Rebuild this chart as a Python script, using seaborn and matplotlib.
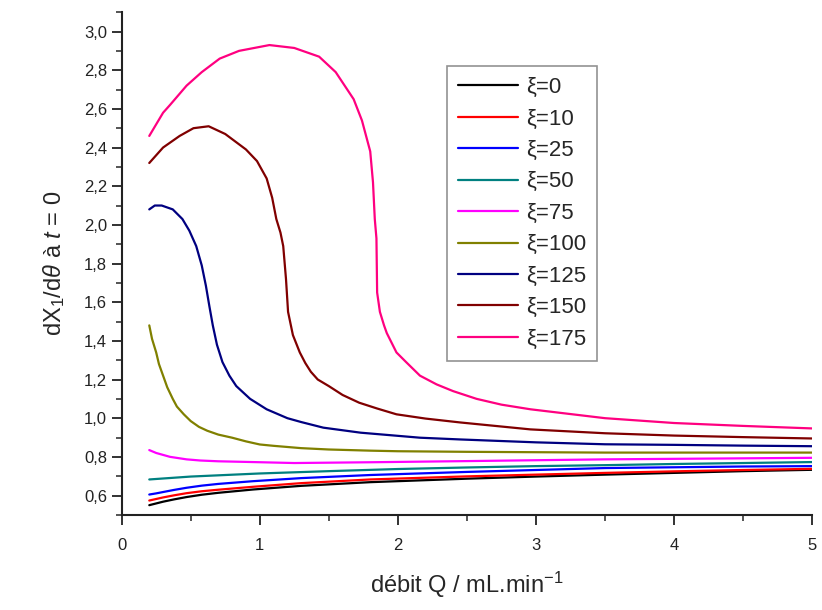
import numpy as np
import pandas as pd
import matplotlib
matplotlib.use("Agg")
import matplotlib.pyplot as plt
from matplotlib.ticker import MultipleLocator, FuncFormatter
import seaborn as sns

# values
labels = ["ξ=0", "ξ=10", "ξ=25", "ξ=50", "ξ=75", "ξ=100", "ξ=125", "ξ=150", "ξ=175"]
colors = ["#000000", "#ff0000", "#0000ff", "#008080", "#ff00ff",
          "#808000", "#000080", "#800000", "#ff0080"]

q_low = [0.2, 0.25, 0.3, 0.38, 0.47, 0.58, 0.7, 0.95, 1.3, 1.8, 2.5, 3.0, 3.5, 4.0, 4.5, 5.0]
y_xi0 = [0.55, 0.559, 0.568, 0.58, 0.592, 0.604, 0.614, 0.631, 0.65, 0.669, 0.687, 0.698, 0.708, 0.717, 0.726, 0.733]
y_xi10 = [0.574, 0.582, 0.59, 0.601, 0.612, 0.622, 0.63, 0.645, 0.664, 0.683, 0.699, 0.708, 0.717, 0.725, 0.732, 0.738]
y_xi25 = [0.605, 0.611, 0.618, 0.629, 0.64, 0.651, 0.66, 0.674, 0.69, 0.706, 0.722, 0.732, 0.742, 0.746, 0.75, 0.752]

q_xi50 = [0.2, 0.5, 1.0, 1.5, 2.0, 2.5, 3.0, 3.5, 4.0, 4.5, 5.0]
y_xi50 = [0.683, 0.698, 0.714, 0.726, 0.737, 0.745, 0.752, 0.757, 0.763, 0.768, 0.773]

q_xi75 = [0.2, 0.25, 0.3, 0.35, 0.47, 0.57, 0.7, 0.95, 1.25, 1.8, 2.5, 3.5, 5.0]
y_xi75 = [0.835, 0.82, 0.81, 0.8, 0.787, 0.781, 0.777, 0.773, 0.768, 0.772, 0.778, 0.787, 0.795]

q_xi100 = [0.2, 0.22, 0.25, 0.27, 0.3, 0.33, 0.37, 0.4, 0.45, 0.5, 0.56, 0.62, 0.7, 0.8, 0.9,
           1.0, 1.1, 1.3, 1.5, 1.8, 2.0, 2.5, 3.5, 5.0]
y_xi100 = [1.48, 1.41, 1.34, 1.28, 1.22, 1.16, 1.10, 1.06, 1.02, 0.985, 0.955, 0.935, 0.915, 0.899, 0.88,
           0.864, 0.857, 0.845, 0.838, 0.832, 0.829, 0.826, 0.822, 0.822]

q_xi125 = [0.2, 0.24, 0.29, 0.37, 0.44, 0.49, 0.54, 0.58, 0.61, 0.635, 0.66, 0.69, 0.73, 0.78,
           0.83, 0.93, 1.05, 1.2, 1.3, 1.46, 1.73, 2.16, 2.45, 3.0, 3.5, 4.0, 4.5, 5.0]
y_xi125 = [2.08, 2.10, 2.10, 2.08, 2.03, 1.97, 1.89, 1.79, 1.685, 1.58, 1.48, 1.38, 1.29, 1.22,
           1.166, 1.10, 1.046, 1.0, 0.98, 0.951, 0.925, 0.899, 0.89, 0.875, 0.865, 0.862, 0.858, 0.855]

q_xi150 = [0.2, 0.3, 0.42, 0.52, 0.63, 0.75, 0.9, 0.98, 1.05, 1.09, 1.12, 1.15, 1.17, 1.19, 1.205,
           1.24, 1.29, 1.33, 1.37, 1.42, 1.5, 1.6, 1.72, 1.85, 1.99, 2.2, 2.45, 2.96, 3.5, 4.0, 4.5, 5.0]
y_xi150 = [2.32, 2.40, 2.46, 2.50, 2.51, 2.47, 2.39, 2.33, 2.24, 2.14, 2.03, 1.96, 1.89, 1.72, 1.55,
           1.43, 1.34, 1.285, 1.24, 1.20, 1.166, 1.12, 1.08, 1.05, 1.02, 0.998, 0.978, 0.942, 0.922, 0.91, 0.902, 0.895]

q_xi175 = [0.2, 0.25, 0.3, 0.35, 0.47, 0.58, 0.71, 0.85, 1.07, 1.25, 1.43, 1.55, 1.68, 1.74, 1.8,
           1.82, 1.833, 1.845, 1.85, 1.87, 1.9, 1.92, 1.99, 2.06, 2.16, 2.28, 2.4, 2.57, 2.75, 2.96,
           3.5, 4.0, 4.5, 5.0]
y_xi175 = [2.46, 2.52, 2.58, 2.62, 2.72, 2.79, 2.86, 2.90, 2.93, 2.915, 2.87, 2.79, 2.65, 2.54, 2.38,
           2.22, 2.03, 1.93, 1.65, 1.55, 1.48, 1.44, 1.34, 1.29, 1.22, 1.175, 1.14, 1.10, 1.07, 1.046,
           1.0, 0.975, 0.96, 0.947]

series = [(q_low, y_xi0), (q_low, y_xi10), (q_low, y_xi25), (q_xi50, y_xi50),
          (q_xi75, y_xi75), (q_xi100, y_xi100), (q_xi125, y_xi125),
          (q_xi150, y_xi150), (q_xi175, y_xi175)]

frames = []
for lab, (q, y) in zip(labels, series):
    frames.append(pd.DataFrame({"Q": q, "dX": y, "xi": lab}))
df = pd.concat(frames, ignore_index=True)

sns.set_theme(style="ticks")
plt.rcParams["font.family"] = ["Liberation Sans", "DejaVu Sans"]
plt.rcParams["mathtext.fontset"] = "custom"
plt.rcParams["mathtext.rm"] = "Liberation Sans"
plt.rcParams["mathtext.it"] = "Liberation Sans:italic"

fig = plt.figure(figsize=(8.22, 6.10), dpi=100)
ax = fig.add_axes([0.148, 0.156, 0.840, 0.824])

sns.lineplot(
    data=df, x="Q", y="dX", hue="xi", hue_order=labels,
    palette=dict(zip(labels, colors)), sort=False, estimator=None,
    linewidth=1.6, ax=ax,
)

ax.set_xlim(0, 5)
ax.set_ylim(0.5, 3.1)
ax.xaxis.set_major_locator(MultipleLocator(1))
ax.xaxis.set_minor_locator(MultipleLocator(0.5))
ax.yaxis.set_major_locator(MultipleLocator(0.2))
ax.yaxis.set_minor_locator(MultipleLocator(0.1))
ax.yaxis.set_major_formatter(FuncFormatter(lambda v, p: f"{v:.1f}".replace(".", ",")))
ax.tick_params(which="major", direction="out", length=7, width=1.3, labelsize=12, colors="#222222")
ax.tick_params(which="minor", direction="out", length=4, width=1.1)
ax.tick_params(axis="x", which="major", pad=10)

for s in ["top", "right"]:
    ax.spines[s].set_visible(False)
for s in ["left", "bottom"]:
    ax.spines[s].set_linewidth(1.5)
    ax.spines[s].set_color("#222222")

ax.set_xlabel(r"débit Q / mL.min$^{-1}$", fontsize=17, labelpad=12)
ax.set_ylabel(r"dX$_1$/d$\theta$ à $t$ = 0", fontsize=17, labelpad=12)

leg = ax.legend(
    loc="upper left", bbox_to_anchor=(0.471, 0.893), borderaxespad=0, fontsize=16,
    frameon=True, fancybox=False, edgecolor="#777777", handlelength=2.7,
    labelspacing=0.47, borderpad=0.5, handletextpad=0.35,
)
leg.get_frame().set_linewidth(1.2)

fig.savefig("out.png", dpi=100)
